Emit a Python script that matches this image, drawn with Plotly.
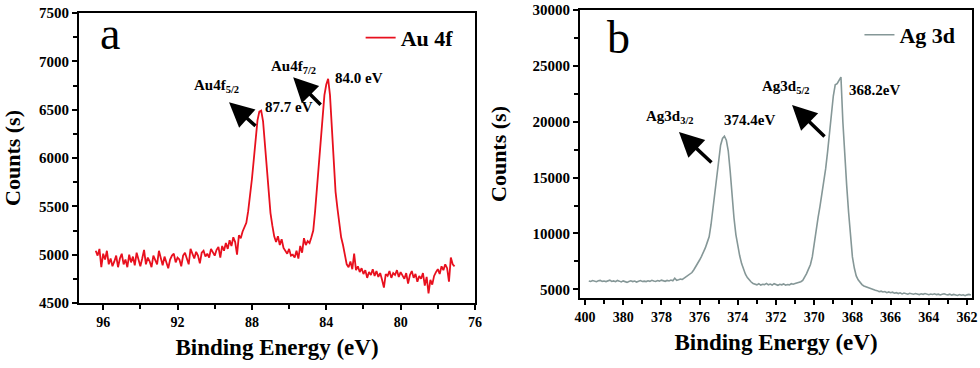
import numpy as np
import plotly.graph_objects as go

# ---------------------------------------
# DATA
# ---------------------------------------
# Au 4f : binding energy grid 96.4 -> 77.1 eV, step 0.1
au_start, au_step = 96.4, -0.1
au_counts = [
    5040, 4990, 5060, 4870, 5010, 4950, 5040, 4900, 4960, 4880,
    4930, 4990, 4870, 4960, 5010, 4900, 4950, 4870, 5000, 4920,
    4980, 4890, 5020, 4940, 4880, 4960, 5050, 4900, 4970, 4930,
    4870, 4990, 4950, 4900, 5040, 4960, 4890, 4980, 4930, 4860,
    4950, 4990, 5010, 4920, 4970, 4950, 4880, 4990, 5020, 4960,
    4900, 5060, 5000, 4960, 5030, 4990, 4910, 5020, 5040, 4980,
    5010, 4970, 5060, 5030, 4990, 5050, 5080, 4970, 5090, 5040,
    5120, 5060, 5150, 5090, 5180, 5130, 5000, 5200, 5170, 5240,
    5280, 5330, 5450, 5600, 5780, 5980, 6200, 6390, 6480, 6490,
    6380, 6160, 5900, 5640, 5430, 5300, 5190, 5130, 5190, 5100,
    5160, 5070, 5040, 5010, 5060, 4990, 5000, 4970, 5040, 4960,
    5090, 5020, 5170, 5100, 5140, 5120, 5180, 5250, 5450, 5700,
    6000, 6250, 6480, 6650, 6760, 6820, 6650, 6300, 5950, 5650,
    5480, 5300, 5180, 5100, 4980, 4900, 4870, 4930, 4850, 5010,
    4840, 4880, 4820, 4860,
    4800, 4840, 4760, 4820, 4790, 4850, 4780, 4830, 4770, 4810,
    4740, 4660, 4800, 4780, 4830, 4760, 4810, 4790, 4840, 4770,
    4820, 4780, 4750, 4810, 4700, 4790, 4830, 4760, 4800, 4720,
    4780, 4750, 4810, 4680, 4770, 4600, 4740, 4690, 4780, 4820,
    4850, 4800, 4880, 4840, 4900, 4860, 4720, 4970, 4900, 4880,
]

# Ag 3d : binding energy grid 381.8 -> 361.8 eV, step 0.1
ag_start, ag_step = 381.8, -0.1
ag_counts = [
    5750, 5700, 5780, 5720, 5680, 5760, 5800, 5710, 5740, 5690,
    5760, 5820, 5700, 5750, 5680, 5790, 5730, 5660, 5750, 5700,
    5620, 5700, 5760, 5690, 5740, 5650, 5720, 5780, 5700, 5730,
    5690, 5760, 5710, 5800, 5740, 5700, 5780, 5730, 5820, 5760,
    5710, 5790, 5750, 5830, 5760, 5990, 5800, 5850, 5910, 5880,
    6000, 6080, 6180, 6300, 6500, 6750, 7000, 7300, 7620, 7950,
    8300, 8700, 9200, 9700, 10800, 12300, 13900, 15400, 16800, 17900,
    18500, 18700, 18350, 17400, 15600, 13200, 11400, 9900, 8900, 8000,
    7300, 6750, 6350, 6050, 5800, 5650, 5520, 5460, 5400, 5500,
    5380, 5450, 5420, 5530, 5400, 5470, 5380, 5500, 5430, 5360,
    5450, 5400, 5480, 5370, 5430, 5400, 5500, 5450, 5520, 5560,
    5600, 5680, 5800, 6050, 6400, 6800, 7200, 7900, 9200, 10300,
    11400, 12400, 13500, 14500, 15800, 17300, 19000, 20800, 22300, 23300,
    23400, 23700, 24000, 20000, 16800, 14300, 11900, 9700, 7900, 6900,
    6200, 5850, 5600, 5420, 5300, 5230, 5150, 5080, 5000, 4950,
    4920, 4880, 4780, 4830, 4760, 4800, 4700, 4760, 4690, 4740,
    4650, 4700, 4620, 4680, 4590, 4660, 4610, 4560, 4640, 4600,
    4560, 4620, 4580, 4530, 4600, 4550, 4620, 4570, 4510, 4580,
    4540, 4600, 4520, 4560, 4490, 4550, 4600, 4530, 4500, 4560,
    4480, 4540, 4500, 4450, 4530, 4470, 4510, 4430, 4500, 4540,
    4480,
]

# right panel: ticks every 2 eV, first label printed as "400" in the original
ag_tickvals = [382, 380, 378, 376, 374, 372, 370, 368, 366, 364, 362]
ag_ticktext = ["400", "380", "378", "376", "374", "372", "370", "368", "366", "364", "362"]

au_energy = np.round(au_start + au_step * np.arange(len(au_counts)), 1)
ag_energy = np.round(ag_start + ag_step * np.arange(len(ag_counts)), 1)

SERIF = "Times New Roman, Liberation Serif, DejaVu Serif, serif"
BOLD = dict(family=SERIF, color="black", weight=700)

W, H = 980, 368

# ---------------------------------------
# FIGURE
# ---------------------------------------
fig = go.Figure()

fig.add_trace(go.Scatter(
    x=au_energy, y=au_counts, mode="lines", name="Au 4f",
    line=dict(color="#e8101e", width=1.8),
    xaxis="x", yaxis="y", showlegend=True
))

fig.add_trace(go.Scatter(
    x=ag_energy, y=ag_counts, mode="lines", name="Ag 3d",
    line=dict(color="#859797", width=1.6),
    xaxis="x2", yaxis="y2", legend="legend2", showlegend=True
))

axis_common = dict(
    showline=True, linecolor="black", linewidth=2, mirror=True,
    ticks="outside", ticklen=5, tickwidth=2, tickcolor="black",
    showgrid=False, zeroline=False, automargin=False,
    ticklabeloverflow="allow",
)
minor_common = dict(ticks="outside", ticklen=4, tickwidth=2, tickcolor="black")
xtitle = dict(text="Binding Energy (eV)", font=dict(size=23, **BOLD), standoff=10)
ytitle = dict(text="Counts (s)", font=dict(size=22, **BOLD))

fig.update_layout(
    width=W, height=H,
    margin=dict(l=0, r=0, t=0, b=0),
    plot_bgcolor="white",
    paper_bgcolor="white",
    font=dict(family=SERIF, color="black"),
    xaxis=dict(
        axis_common, domain=[79 / W, 475 / W], range=[97.3, 76],
        tick0=76, dtick=4, tickfont=dict(size=14, **BOLD),
        minor=dict(minor_common, dtick=2, tick0=76),
        title=xtitle,
    ),
    yaxis=dict(
        axis_common, domain=[1 - 303 / H, 1 - 13 / H], range=[4500, 7500],
        tick0=4500, dtick=500, tickfont=dict(size=15, **BOLD),
        minor=dict(minor_common, dtick=250, tick0=4500),
        title=dict(ytitle, standoff=23),
    ),
    xaxis2=dict(
        axis_common, domain=[580 / W, 972 / W], range=[382.26, 361.74],
        anchor="y2", tickvals=ag_tickvals, ticktext=ag_ticktext,
        tickfont=dict(size=14, **BOLD),
        minor=dict(minor_common, dtick=1, tick0=362),
        title=xtitle,
    ),
    yaxis2=dict(
        axis_common, domain=[1 - 298 / H, 1 - 10 / H], range=[4220, 30000],
        anchor="x2", tick0=5000, dtick=5000, tickformat="d",
        tickfont=dict(size=15, **BOLD),
        minor=dict(minor_common, dtick=2500, tick0=5000),
        title=dict(ytitle, standoff=20),
    ),
    legend=dict(
        x=0.368, y=0.897, xanchor="left", yanchor="middle",
        bgcolor="rgba(0,0,0,0)", font=dict(size=22, **BOLD),
    ),
    legend2=dict(
        x=0.877, y=0.905, xanchor="left", yanchor="middle",
        bgcolor="rgba(0,0,0,0)", font=dict(size=22, **BOLD),
    ),
)

# ---------------------------------------
# PANEL LETTERS + PEAK LABELS
# ---------------------------------------
fig.add_annotation(text="a", xref="x domain", yref="y domain", x=0.048, y=0.93,
                   xanchor="left", yanchor="middle", showarrow=False,
                   font=dict(family=SERIF, size=46, color="black"))
fig.add_annotation(text="b", xref="x2 domain", yref="y2 domain", x=0.063, y=0.906,
                   xanchor="left", yanchor="middle", showarrow=False,
                   font=dict(family=SERIF, size=46, color="black"))

labels = [
    # (text, x, y, xref, yref)
    ("Au4f<sub>5/2</sub>", 89.93, 6742, "x", "y"),
    ("87.7 eV", 86.0, 6530, "x", "y"),
    ("Au4f<sub>7/2</sub>", 85.78, 6939, "x", "y"),
    ("84.0 eV", 82.23, 6825, "x", "y"),
    ("Ag3d<sub>3/2</sub>", 377.55, 20421, "x2", "y2"),
    ("374.4eV", 373.41, 20143, "x2", "y2"),
    ("Ag3d<sub>5/2</sub>", 371.48, 23106, "x2", "y2"),
    ("368.2eV", 366.82, 22837, "x2", "y2"),
]
for text, x, y, xr, yr in labels:
    fig.add_annotation(text=text, x=x, y=y, xref=xr, yref=yr, showarrow=False,
                       xanchor="center", yanchor="middle",
                       font=dict(size=15, **BOLD))

arrows = [
    # head position (data) and tail offset (px)
    (89.23, 6577, 28, 25, "x", "y"),
    (85.78, 6835, 29, 29, "x", "y"),
    (377.08, 19078, 34, 32, "x2", "y2"),
    (371.16, 21495, 34, 33, "x2", "y2"),
]
for x, y, ax, ay, xr, yr in arrows:
    fig.add_annotation(text="", x=x, y=y, xref=xr, yref=yr, ax=ax, ay=ay,
                       showarrow=True, arrowhead=2, arrowsize=1.4, arrowwidth=3.5,
                       arrowcolor="black")

# drop the default 8px body margin so the 980x368 figure fills the window
fig.write_html(
    "out.html",
    config={"displayModeBar": False},
    post_script="document.body.style.margin = '0';",
)
